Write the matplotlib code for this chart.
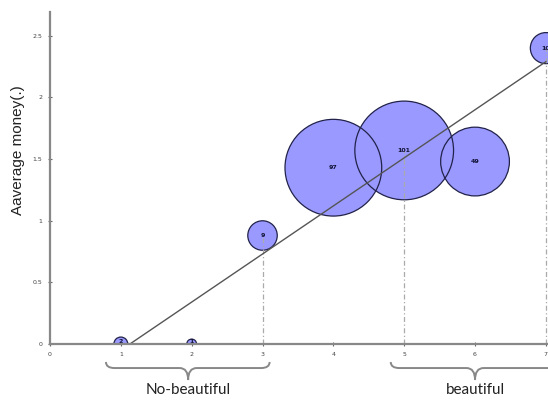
import matplotlib
matplotlib.use("Agg")
import matplotlib.pyplot as plt
from matplotlib.path import Path
from matplotlib.patches import PathPatch

# ---- data ----
x_vals = [1, 2, 3, 4, 5, 6, 7]
y_vals = [0.0, 0.0, 0.88, 1.43, 1.57, 1.48, 2.40]
counts = [2, 1, 9, 97, 101, 49, 10]
guide_x = [3, 5, 7]
guide_y = [0.88, 1.57, 2.40]
fit_slope = 0.39
fit_intercept = -0.44
fit_x = [1.13, 7.0]
x_ticks = [0, 1, 2, 3, 4, 5, 6, 7]
y_ticks = [0, 0.5, 1, 1.5, 2, 2.5]
y_ticklabels = ["0", "0.5", "1", "1.5", "2", "2.5"]
group_labels = ["No-beautiful", "beautiful"]
group_ranges = [(0.79, 3.10), (4.81, 7.19)]
group_centers = [1.95, 6.0]

fig = plt.figure(figsize=(5.48, 4.01), dpi=100)
ax = fig.add_axes([50/548, 57/401, 498/548, 332/401])
ax.set_xlim(0, 7.03)
ax.set_ylim(0, 2.693)

face = "#9999ff"
edge = "#22224a"
sizes = [c * 50 for c in counts]

# fills, then edges (so overlaps show both outlines)
ax.scatter(x_vals, y_vals, s=sizes, c=face, edgecolors="none", zorder=2)
ax.scatter(x_vals, y_vals, s=sizes, facecolors="none", edgecolors=edge,
           linewidths=0.9, zorder=3)

# dotted guides
for gx, gy in zip(guide_x, guide_y):
    ax.plot([gx, gx], [0, gy], color="#aaaaaa", lw=0.9, ls=(0, (4, 2, 1, 2)), zorder=4)

# regression line
fy = [fit_slope * v + fit_intercept for v in fit_x]
ax.plot(fit_x, fy, color="#555555", lw=1.0, zorder=5)

# bubble labels
for x, y, c in zip(x_vals, y_vals, counts):
    ax.text(x, y + (0.02 if y == 0 else 0), str(c), ha="center", va="center",
            fontsize=4.5, color="#111133", zorder=6, fontweight="bold")

for s in ["top", "right"]:
    ax.spines[s].set_visible(False)
for s in ["left", "bottom"]:
    ax.spines[s].set_color("#888888")
    ax.spines[s].set_linewidth(1.6)
    ax.spines[s].set_zorder(7)

ax.set_xticks(x_ticks)
ax.set_xticklabels([str(t) for t in x_ticks])
ax.set_yticks(y_ticks)
ax.set_yticklabels(y_ticklabels)
ax.tick_params(axis="both", labelsize=4.5, colors="#444444", length=3,
               width=0.8, direction="inout", pad=4)
ax.tick_params(axis="both", colors="#666666", labelcolor="#444444")

ax.set_ylabel("Aaverage money(.)", fontsize=11, family="Liberation Sans",
              color="#222222")
ax.yaxis.set_label_coords(-25/498, 0.585)

# braces
y_top, y_mid, y_tip = -0.146, -0.195, -0.292
r = 0.12
for (x0, x1), xc, lab in zip(group_ranges, group_centers, group_labels):
    verts = [(x0, y_top), (x0, y_mid), (x0 + r, y_mid),
             (xc - r, y_mid), (xc, y_mid), (xc, y_tip),
             (xc, y_mid), (xc + r, y_mid),
             (x1 - r, y_mid), (x1, y_mid), (x1, y_top)]
    codes = [Path.MOVETO, Path.CURVE3, Path.CURVE3,
             Path.LINETO, Path.CURVE3, Path.CURVE3,
             Path.CURVE3, Path.CURVE3,
             Path.LINETO, Path.CURVE3, Path.CURVE3]
    ax.add_patch(PathPatch(Path(verts, codes), fill=False, ec="#888888",
                           lw=1.4, clip_on=False))
    ax.text(xc, -0.37, lab, ha="center", va="center", fontsize=11,
            family="Lato", color="#222222", clip_on=False)

fig.savefig("out.png", dpi=100)
